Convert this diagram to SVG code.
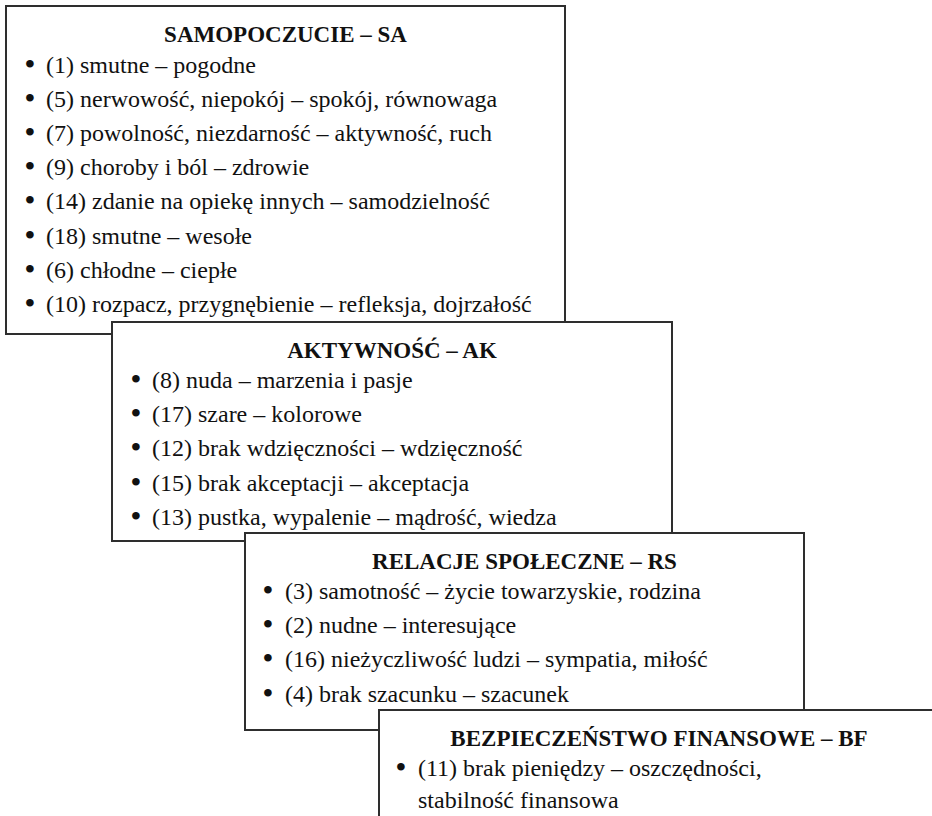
<svg xmlns="http://www.w3.org/2000/svg" width="932" height="816" viewBox="0 0 932 816">
<style>
.box{fill:#ffffff;stroke:#2e2e2e;stroke-width:2}
.title{font-family:"Liberation Serif","Times New Roman",serif;font-size:23px;font-weight:bold;fill:#111;text-anchor:middle}
.item{font-family:"Liberation Serif","Times New Roman",serif;font-size:24px;fill:#111}
.bul{font-family:"Liberation Serif","Times New Roman",serif;font-size:28px;font-weight:bold;fill:#111;text-anchor:middle}
</style>
<rect x="0" y="0" width="932" height="816" fill="#ffffff"/>
<g id="SA">
<rect class="box" x="6" y="6" width="559" height="328"/>
<text class="title" x="285.5" y="42">SAMOPOCZUCIE – SA</text>
<text class="bul" x="30" y="72.5">•</text><text class="item" x="46" y="72.5">(1) smutne – pogodne</text>
<text class="bul" x="30" y="106.7">•</text><text class="item" x="46" y="106.7">(5) nerwowość, niepokój – spokój, równowaga</text>
<text class="bul" x="30" y="140.9">•</text><text class="item" x="46" y="140.9">(7) powolność, niezdarność – aktywność, ruch</text>
<text class="bul" x="30" y="175.1">•</text><text class="item" x="46" y="175.1">(9) choroby i ból – zdrowie</text>
<text class="bul" x="30" y="209.3">•</text><text class="item" x="46" y="209.3">(14) zdanie na opiekę innych – samodzielność</text>
<text class="bul" x="30" y="243.5">•</text><text class="item" x="46" y="243.5">(18) smutne – wesołe</text>
<text class="bul" x="30" y="277.7">•</text><text class="item" x="46" y="277.7">(6) chłodne – ciepłe</text>
<text class="bul" x="30" y="311.9">•</text><text class="item" x="46" y="311.9">(10) rozpacz, przygnębienie – refleksja, dojrzałość</text>
</g>
<g id="AK">
<rect class="box" x="112" y="322" width="560" height="219"/>
<text class="title" x="392" y="358">AKTYWNOŚĆ – AK</text>
<text class="bul" x="136" y="388">•</text><text class="item" x="152" y="388">(8) nuda – marzenia i pasje</text>
<text class="bul" x="136" y="422.2">•</text><text class="item" x="152" y="422.2">(17) szare – kolorowe</text>
<text class="bul" x="136" y="456.4">•</text><text class="item" x="152" y="456.4">(12) brak wdzięczności – wdzięczność</text>
<text class="bul" x="136" y="490.6">•</text><text class="item" x="152" y="490.6">(15) brak akceptacji – akceptacja</text>
<text class="bul" x="136" y="524.8">•</text><text class="item" x="152" y="524.8">(13) pustka, wypalenie – mądrość, wiedza</text>
</g>
<g id="RS">
<rect class="box" x="245" y="533" width="559" height="197"/>
<text class="title" x="524.5" y="569">RELACJE SPOŁECZNE – RS</text>
<text class="bul" x="268" y="599">•</text><text class="item" x="285" y="599">(3) samotność – życie towarzyskie, rodzina</text>
<text class="bul" x="268" y="633.2">•</text><text class="item" x="285" y="633.2">(2) nudne – interesujące</text>
<text class="bul" x="268" y="667.4">•</text><text class="item" x="285" y="667.4">(16) nieżyczliwość ludzi – sympatia, miłość</text>
<text class="bul" x="268" y="701.6">•</text><text class="item" x="285" y="701.6">(4) brak szacunku – szacunek</text>
</g>
<g id="BF">
<rect class="box" x="379" y="710" width="562" height="130"/>
<text class="title" x="659" y="746">BEZPIECZEŃSTWO FINANSOWE – BF</text>
<text class="bul" x="401" y="776">•</text><text class="item" x="418" y="776">(11) brak pieniędzy – oszczędności,</text>
<text class="item" x="418" y="808">stabilność finansowa</text>
</g>
</svg>
